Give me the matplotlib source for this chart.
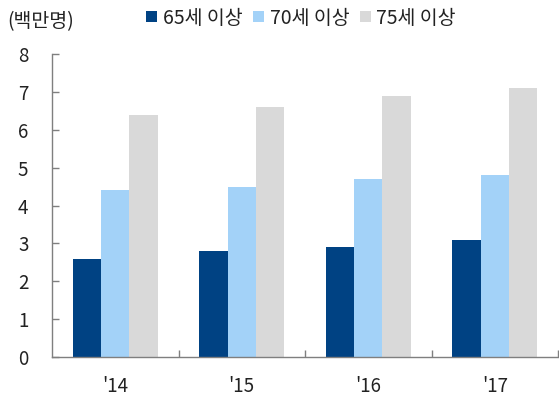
import matplotlib
matplotlib.use("Agg")
import matplotlib.pyplot as plt
import numpy as np

plt.rcParams['font.family'] = ['Noto Sans CJK KR', 'DejaVu Sans']

years = ["'14", "'15", "'16", "'17"]
series_names = ["65세 이상", "70세 이상", "75세 이상"]
age65 = [2.6, 2.8, 2.9, 3.1]
age70 = [4.4, 4.5, 4.7, 4.8]
age75 = [6.4, 6.6, 6.9, 7.1]
yticks = [0, 1, 2, 3, 4, 5, 6, 7, 8]
colors = ["#004283", "#A3D2F8", "#D9D9D9"]

fig = plt.figure(figsize=(5.59, 3.97), dpi=100)
ax = fig.add_axes([52 / 559, 40 / 397, (558 - 52) / 559, (357 - 54) / 397])

x = np.arange(len(years))
w = 0.224
for i, (vals, name, c) in enumerate(zip([age65, age70, age75], series_names, colors)):
    ax.bar(x + (i - 1) * w, vals, width=w, color=c, label=name)

ax.set_xlim(-0.5, len(years) - 0.5)
ax.set_ylim(0, 8)
ax.set_yticks(yticks)
ax.tick_params(axis='y', direction='in', length=5, width=1, color='#7f7f7f',
               labelsize=13.5, pad=17, labelcolor='#222222')
ax.set_xticks(x)
ax.set_xticklabels(years)
ax.tick_params(axis='x', length=0, labelsize=13.5, pad=14, labelcolor='#222222')
ax.set_xticks(np.arange(len(years)) + 0.5, minor=True)
ax.tick_params(axis='x', which='minor', direction='in', length=5, width=1, color='#7f7f7f')

for s in ['top', 'right']:
    ax.spines[s].set_visible(False)
for s in ['left', 'bottom']:
    ax.spines[s].set_color('#7f7f7f')
    ax.spines[s].set_linewidth(1)

fig.text(7 / 559, 1 - 22 / 397, "(백만명)", fontsize=14, va='center', ha='left', color='#222222')

leg = fig.legend(loc='center', bbox_to_anchor=(301 / 559, 1 - 18 / 397), ncol=3, frameon=False,
                 fontsize=14, handlelength=0.55, handleheight=0.55, handletextpad=0.3,
                 columnspacing=0.55, labelcolor='#222222')

fig.savefig("out.png", dpi=100)
